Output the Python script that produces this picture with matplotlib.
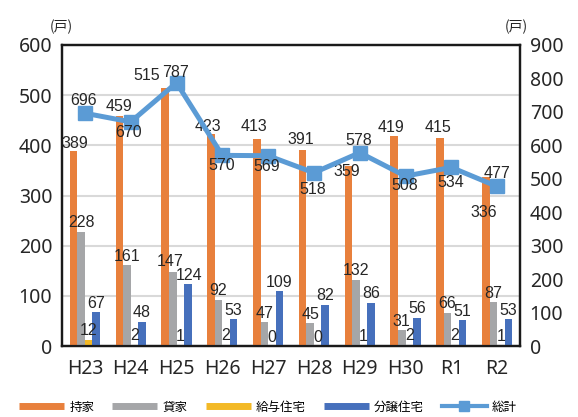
import matplotlib
matplotlib.use("Agg")
import matplotlib.pyplot as plt
from matplotlib.lines import Line2D
import numpy as np

# ---- data ----
years = ["H23", "H24", "H25", "H26", "H27", "H28", "H29", "H30", "R1", "R2"]
mochiie = [389, 459, 515, 423, 413, 391, 359, 419, 415, 336]   # 持家
kashiya = [228, 161, 147, 92, 47, 45, 132, 31, 66, 87]         # 貸家
kyuyo = [12, 2, 1, 2, 0, 0, 1, 2, 2, 1]                        # 給与住宅
bunjo = [67, 48, 124, 53, 109, 82, 86, 56, 51, 53]             # 分譲住宅
total = [696, 670, 787, 570, 569, 518, 578, 508, 534, 477]     # 総計
names = ["持家", "貸家", "給与住宅", "分譲住宅", "総計"]

colors = ["#E8803C", "#A5A6A8", "#F3B926", "#4670BC"]
line_color = "#5B9BD5"

jp = ["Noto Sans CJK JP", "DejaVu Sans"]
num_font = ["Liberation Sans", "DejaVu Sans"]
tick_font = ["Noto Sans", "DejaVu Sans"]

PX = 0.72  # px -> points at dpi 100

fig = plt.figure(figsize=(5.78, 4.17), dpi=100)
ax = fig.add_axes([62 / 578, 1 - 346 / 417, 458 / 578, 301 / 417])
ax2 = ax.twinx()

x = np.arange(len(years))
w = 0.164
bar_sets = [mochiie, kashiya, kyuyo, bunjo]
for i, (vals, c) in enumerate(zip(bar_sets, colors)):
    ax.bar(x + (i - 1.5) * w, vals, width=w, color=c, zorder=3)

# ---- bar labels ----
orange_off = [(1, 7), (0, 9), (-19, 12), (-3, 7), (-3, 12), (-2, 10), (-2, -6), (-3, 8), (-2, 10), (-2, -35)]
special = {(1, 2): (-3, 11), (3, 2): (1, 8)}  # nudge a couple of crowded labels
for i, vals in enumerate(bar_sets):
    for j, v in enumerate(vals):
        dx, dy = orange_off[j] if i == 0 else special.get((i, j), (0, 9))
        ax.annotate(str(v), (x[j] + (i - 1.5) * w, v), xytext=(dx * PX, dy * PX),
                    textcoords="offset points", ha="center", va="center",
                    fontsize=11.5, family=num_font, color="#262626", zorder=6)

# ---- total line ----
ax2.plot(x, total, color=line_color, lw=3.6, marker="s", markersize=10.5, zorder=4)
line_off = [(-1, 13), (-2, -11), (-1, 10), (-1, -10), (-1, -11), (-1, -17), (-1, 12), (-1, -9), (-1, -15), (0, 13)]
for j, v in enumerate(total):
    dx, dy = line_off[j]
    ax2.annotate(str(v), (x[j], v), xytext=(dx * PX, dy * PX), textcoords="offset points",
                 ha="center", va="center", fontsize=11.5, family=num_font, color="#262626", zorder=6)

# ---- axes ----
ax.set_xlim(-0.5, len(years) - 0.5)
ax.set_ylim(0, 600)
ax2.set_ylim(0, 900)
ax.set_yticks(range(0, 601, 100))
ax2.set_yticks(range(0, 901, 100))
ax.set_xticks(x)
ax.set_xticklabels(years)
ax.grid(axis="y", color="#D9D9D9", lw=1.5, zorder=0)
ax.set_axisbelow(True)

for a in (ax, ax2):
    for s in a.spines.values():
        s.set_linewidth(1.6)
        s.set_color("#1a1a1a")
    a.tick_params(length=0, labelsize=14, colors="#262626")
    for lab in a.get_xticklabels() + a.get_yticklabels():
        lab.set_family(tick_font)
ax.tick_params(axis="y", pad=7)
ax2.tick_params(axis="y", pad=7)
ax.tick_params(axis="x", pad=9)

fig.text(50 / 578, 1 - 27 / 417, "(戸)", fontsize=10, family=jp, va="center", color="#262626")
fig.text(505 / 578, 1 - 27 / 417, "(戸)", fontsize=10, family=jp, va="center", color="#262626")

# ---- legend ----
handles = [Line2D([0], [0], color=c, lw=5, solid_capstyle="butt") for c in colors]
handles.append(Line2D([0], [0], color=line_color, lw=3, marker="s", markersize=7))
fig.legend(handles, names, loc="center", bbox_to_anchor=(268 / 578, 1 - 407 / 417), ncol=5,
           frameon=False, prop={"family": jp, "size": 9}, handlelength=3.6,
           handletextpad=0.4, columnspacing=1.45)

fig.savefig("out.png", dpi=100)
